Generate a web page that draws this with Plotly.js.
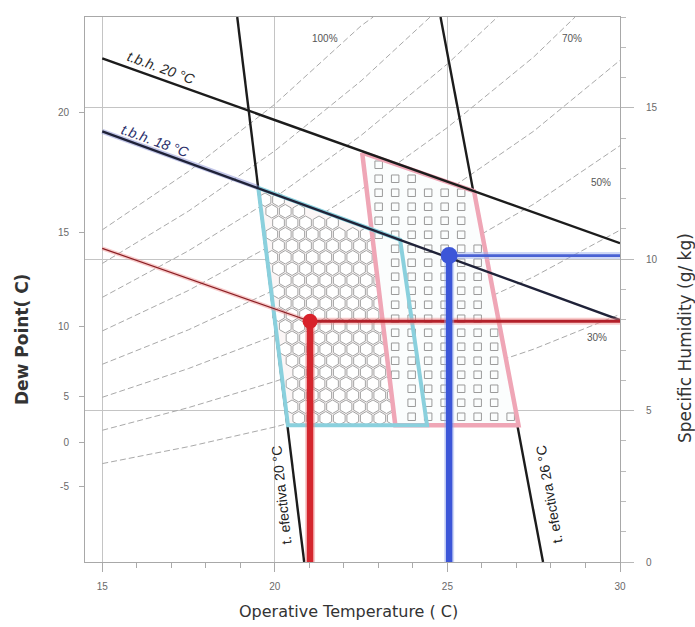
<!DOCTYPE html>
<html><head><meta charset="utf-8">
<script src="https://cdn.plot.ly/plotly-3.0.1.min.js"></script>
<style>html,body{margin:0;padding:0;background:#fff}#chart{width:695px;height:627px}</style>
</head><body><div id="chart"></div>
<script>
// ---------- data ----------
// x: operative temperature (°C); y: specific humidity (g/kg)
const dewPointTickText = ['-5', '0', '5', '10', '15', '20'];
const dewPointTickPos  = [2.48, 3.96, 5.48, 7.79, 10.87, 14.86];
const shTickVals = [0, 5, 10, 15];
const tempTickVals = [15, 20, 25, 30];

// relative humidity curves (dashed)
const rh100T = [15, 17.5, 20, 22.5, 22.85];          const rh100SH = [10.97, 12.90, 15.12, 17.71, 18.0];
const rh90T  = [15, 17.5, 20, 22.5, 24.5];           const rh90SH  = [9.86, 11.59, 13.58, 15.89, 18.0];
const rh80T  = [15, 17.5, 20, 22.5, 25, 26.45];      const rh80SH  = [8.74, 10.28, 12.04, 14.09, 16.45, 18.0];
const rh70T  = [15, 17.5, 20, 22.5, 25, 27.5, 28.7]; const rh70SH  = [7.63, 8.97, 10.52, 12.30, 14.35, 16.68, 18.0];
const rh60T  = [15, 17.5, 20, 22.5, 25, 27.5, 30];   const rh60SH  = [6.53, 7.67, 8.99, 10.51, 12.26, 14.23, 16.57];
const rh50T  = [15, 17.5, 20, 22.5, 25, 27.5, 30];   const rh50SH  = [5.44, 6.39, 7.48, 8.73, 10.18, 11.82, 13.75];
const rh40T  = [15, 17.5, 20, 22.5, 25, 27.5, 30];   const rh40SH  = [4.35, 5.10, 5.96, 6.96, 8.12, 9.42, 10.96];
const rh30T  = [15, 17.5, 20, 22.5, 25, 27.5, 30];   const rh30SH  = [3.25, 3.81, 4.46, 5.21, 6.07, 7.03, 8.18];

// wet-bulb lines
const tbh20T = [15, 30]; const tbh20SH = [16.63, 10.53];
const tbh18T = [15, 30]; const tbh18SH = [14.22, 7.99];
const redWbT = [15, 21.02]; const redWbSH = [10.36, 7.95];
// effective temperature lines
const et20T = [18.91, 20.85]; const et20SH = [18, 0];
const et26T = [24.80, 27.77]; const et26SH = [18, 0];
// comfort zones
const cyanZoneT = [19.52, 23.63, 24.41, 20.38]; const cyanZoneSH = [12.36, 10.64, 4.52, 4.52];
const pinkZoneT = [22.53, 25.77, 27.06, 23.49]; const pinkZoneSH = [13.52, 12.25, 4.52, 4.52];
// state points
const redPtT = 21.02;  const redPtSH = 7.95;
const bluePtT = 25.05; const bluePtSH = 10.12;
const xMax = 30, xMin = 14.5, yMax = 18;

// ---------- geometry helpers ----------
const M = {l: 85, r: 75, t: 17, b: 65};
const W = 695, H = 627;
const kx = (W - M.l - M.r) / (xMax - xMin);
const ky = (H - M.t - M.b) / yMax;

function inPoly(x, y, xs, ys) {
  let c = false;
  for (let i = 0, j = xs.length - 1; i < xs.length; j = i++) {
    if (((ys[i] > y) !== (ys[j] > y)) && (x < (xs[j] - xs[i]) * (y - ys[i]) / (ys[j] - ys[i]) + xs[i])) c = !c;
  }
  return c;
}
function edgeDist(x, y, xs, ys) {
  let m = Infinity;
  for (let i = 0; i < xs.length; i++) {
    const j = (i + 1) % xs.length;
    const ax = xs[i] * kx, ay = ys[i] * ky, bx = xs[j] * kx, by = ys[j] * ky;
    const px = x * kx, py = y * ky;
    const vx = bx - ax, vy = by - ay;
    let t = ((px - ax) * vx + (py - ay) * vy) / (vx * vx + vy * vy);
    t = Math.max(0, Math.min(1, t));
    m = Math.min(m, Math.hypot(px - (ax + t * vx), py - (ay + t * vy)));
  }
  return m;
}
function pattern(xs, ys, sx, sy, stagger, inset) {
  const gx = [], gy = [];
  const x0 = Math.min(...xs), x1 = Math.max(...xs), y0 = Math.min(...ys), y1 = Math.max(...ys);
  let row = 0;
  for (let y = y0 + sy / ky * 0.6; y < y1; y += sy / ky, row++) {
    const off = stagger && (row % 2) ? sx / kx / 2 : 0;
    for (let x = x0 + off; x < x1; x += sx / kx) {
      if (inPoly(x, y, xs, ys) && edgeDist(x, y, xs, ys) > inset) { gx.push(x); gy.push(y); }
    }
  }
  return {x: gx, y: gy};
}
const close = a => a.concat([a[0]]);

// ---------- traces ----------
const traces = [];
const dash = (x, y) => ({x, y, mode: 'lines', line: {color: '#a9a9a9', width: 1, dash: '6px,3px'}, hoverinfo: 'skip', showlegend: false});
[[rh100T, rh100SH], [rh90T, rh90SH], [rh80T, rh80SH], [rh70T, rh70SH], [rh60T, rh60SH], [rh50T, rh50SH], [rh40T, rh40SH], [rh30T, rh30SH]]
  .forEach(p => traces.push(dash(p[0], p[1])));

const line = (x, y, color, width) => ({x, y, mode: 'lines', line: {color, width}, hoverinfo: 'skip', showlegend: false});
// effective temperature lines (under zones)
traces.push(line(et20T, et20SH, '#1c1c1c', 2.4));
traces.push(line(et26T, et26SH, '#1c1c1c', 2.4));

// zone fills and textures
traces.push({x: close(cyanZoneT), y: close(cyanZoneSH), mode: 'lines', fill: 'toself', fillcolor: '#fbf6f6', line: {width: 0}, hoverinfo: 'skip', showlegend: false});
const hex = pattern(cyanZoneT, cyanZoneSH, 13.5, 11.5, true, 4);
traces.push({x: hex.x, y: hex.y, mode: 'markers', marker: {symbol: 'hexagon', size: 13.5, color: '#ffffff', line: {width: 1, color: '#a4a4a4'}}, hoverinfo: 'skip', showlegend: false});
traces.push({x: close(pinkZoneT), y: close(pinkZoneSH), mode: 'lines', fill: 'toself', fillcolor: '#fbfdfd', line: {width: 0}, hoverinfo: 'skip', showlegend: false});
const sq = pattern(pinkZoneT, pinkZoneSH, 16.5, 14, false, 5);
traces.push({x: sq.x, y: sq.y, mode: 'markers', marker: {symbol: 'square-open', size: 7.5, color: '#9a9a9a', line: {width: 1, color: '#9a9a9a'}}, hoverinfo: 'skip', showlegend: false});

// zone borders
traces.push(line(close(pinkZoneT), close(pinkZoneSH), '#efa6b6', 4.5));
traces.push(line(close(cyanZoneT), close(cyanZoneSH), '#8ad0dd', 4));

// wet bulb lines
traces.push(line([tbh18T[0], cyanZoneT[0]], [tbh18SH[0], cyanZoneSH[0]], 'rgba(120,128,205,0.45)', 5));
traces.push(line(tbh20T, tbh20SH, '#1c1c1c', 2.4));
traces.push(line(tbh18T, tbh18SH, '#1f2238', 2.4));
traces.push(line(redWbT, redWbSH, 'rgba(240,150,150,0.5)', 4));
traces.push(line(redWbT, redWbSH, '#8a1d22', 1.2));

// state point guide lines
traces.push(line([redPtT, xMax], [redPtSH, redPtSH], 'rgba(240,140,140,0.45)', 7));
traces.push(line([redPtT, xMax], [redPtSH, redPtSH], '#b3202a', 3));
traces.push(line([redPtT, redPtT], [redPtSH, 0], 'rgba(240,140,140,0.45)', 10));
traces.push(line([redPtT, redPtT], [redPtSH, 0], '#d4262e', 6.5));
traces.push(line([bluePtT, xMax], [bluePtSH, bluePtSH], 'rgba(150,170,235,0.45)', 7));
traces.push(line([bluePtT, xMax], [bluePtSH, bluePtSH], '#4a62d4', 2.6));
traces.push(line([bluePtT, bluePtT], [bluePtSH, 0], 'rgba(150,170,235,0.45)', 10));
traces.push(line([bluePtT, bluePtT], [bluePtSH, 0], '#3c56d8', 6.5));
traces.push({x: [redPtT], y: [redPtSH], mode: 'markers', marker: {size: 15, color: '#d8222b'}, hoverinfo: 'skip', showlegend: false});
traces.push({x: [bluePtT], y: [bluePtSH], mode: 'markers', marker: {size: 17, color: '#3c56d8'}, hoverinfo: 'skip', showlegend: false});
// right axis holder
traces.push({x: [xMin], y: [0], yaxis: 'y2', mode: 'markers', marker: {opacity: 0}, hoverinfo: 'skip', showlegend: false});

// ---------- layout ----------
const lblFont = {family: 'Liberation Sans, Arial, sans-serif', size: 10, color: '#6a6a6a'};
const sans = 'Liberation Sans, Arial, sans-serif';
const ann = (text, x, y, opts) => Object.assign({text, x, y, xref: 'x', yref: 'y', showarrow: false, xanchor: 'center', yanchor: 'middle'}, opts || {});
const pann = (text, px, py, opts) => Object.assign({text, xref: 'paper', yref: 'paper',
  x: (px - M.l) / (W - M.l - M.r), y: (H - M.b - py) / (H - M.t - M.b),
  showarrow: false, xanchor: 'center', yanchor: 'middle'}, opts || {});
const layout = {
  width: W, height: H, margin: M,
  paper_bgcolor: '#fff', plot_bgcolor: '#fff', showlegend: false,
  xaxis: {range: [xMin, xMax], tickvals: tempTickVals, ticks: 'outside', ticklen: 9, tickcolor: '#aaa',
    showgrid: true, gridcolor: '#c4c4c4', gridwidth: 1, zeroline: false,
    showline: true, mirror: true, linecolor: '#a8a8a8', linewidth: 1,
    tickfont: lblFont, ticklabelstandoff: 6,
    minor: {dtick: 1, tick0: 15, ticks: 'outside', ticklen: 5, tickcolor: '#aaa', showgrid: false}},
  yaxis: {range: [0, yMax], tickvals: dewPointTickPos, ticktext: dewPointTickText, ticks: 'outside', ticklen: 5,
    tickcolor: '#aaa', showgrid: false, zeroline: false, showline: true, mirror: true, linecolor: '#a8a8a8',
    tickfont: lblFont, ticklabelstandoff: 8},
  yaxis2: {range: [0, yMax], overlaying: 'y', side: 'right', tickvals: shTickVals, ticks: 'outside', ticklen: 13,
    tickcolor: '#b8b8b8', showgrid: true, gridcolor: '#c4c4c4', zeroline: false, showline: false,
    tickfont: lblFont, ticklabelstandoff: 10,
    minor: {dtick: 1, ticks: 'outside', ticklen: 5, tickcolor: '#bbb', showgrid: false}},
  annotations: [
    ann('t.b.h. 20 °C', 16.73, 16.33, {textangle: 20, font: {family: sans, size: 14, color: '#2a2a2a', style: 'italic'}}),
    ann('t.b.h. 18 °C', 16.55, 13.92, {textangle: 20, font: {family: sans, size: 14, color: '#2b2f6b', style: 'italic'}}),
    ann('100%', 21.46, 17.3, {font: {family: sans, size: 10, color: '#555'}}),
    ann('70%', 28.61, 17.3, {font: {family: sans, size: 10, color: '#555'}}),
    ann('50%', 29.45, 12.55, {font: {family: sans, size: 10, color: '#555'}}),
    ann('30%', 29.34, 7.43, {font: {family: sans, size: 10, color: '#555'}}),
    ann('t. efectiva 20 °C', 20.19, 2.21, {textangle: -96, font: {family: sans, size: 14, color: '#222'}}),
    ann('t. efectiva 26 °C', 27.94, 2.25, {textangle: -100, font: {family: sans, size: 14, color: '#222'}}),
    pann('Operative Temperature ( C)', 348, 612, {font: {family: 'DejaVu Sans, Verdana, sans-serif', size: 16, color: '#333'}}),
    pann('Dew Point( C)', 22, 340, {textangle: -90, font: {family: 'DejaVu Sans, Verdana, sans-serif', size: 17, color: '#333', weight: 'bold'}}),
    pann('Specific Humidity (g/ kg)', 685, 338, {textangle: -90, font: {family: 'DejaVu Sans, Verdana, sans-serif', size: 17, color: '#333'}})
  ]
};
Plotly.newPlot('chart', traces, layout, {staticPlot: true, displayModeBar: false});
</script></body></html>
